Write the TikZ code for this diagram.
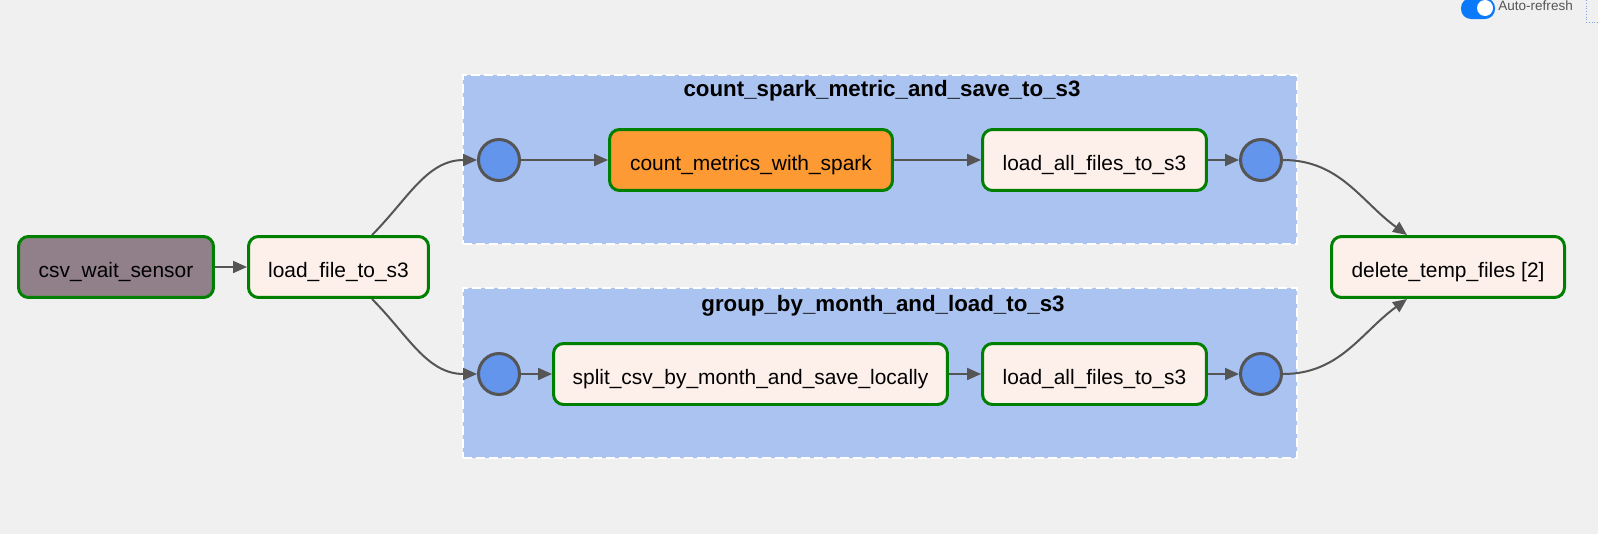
\documentclass[tikz,border=0pt]{standalone}
\usepackage{fontspec}
\setmainfont{Liberation Sans}
\usetikzlibrary{arrows.meta}
\definecolor{bgpage}{RGB}{240,240,240}
\definecolor{grpblue}{RGB}{170,195,240}
\definecolor{taskfill}{RGB}{253,239,234}
\definecolor{sensorfill}{RGB}{145,128,137}
\definecolor{sparkfill}{RGB}{254,154,51}
\definecolor{okgreen}{RGB}{0,128,0}
\definecolor{edgegray}{RGB}{85,85,85}
\definecolor{jointblue}{RGB}{100,149,237}
\definecolor{toggleblue}{RGB}{10,122,250}
\definecolor{frameblue}{RGB}{130,165,225}
\begin{document}
\begin{tikzpicture}[x=0.02cm,y=-0.02cm,
  every node/.style={font=\fontsize{11.9}{14}\selectfont},
  task/.style={draw=okgreen,line width=0.06cm,fill=taskfill,rounded corners=0.2cm,minimum height=1.22cm,inner sep=0pt,text height=0.45cm,text depth=0.03cm},
  joint/.style={circle,draw=edgegray,line width=0.06cm,fill=jointblue,minimum size=0.82cm,inner sep=0pt},
  grp/.style={draw=white,dash pattern=on 0.18cm off 0.08cm,line width=0.04cm,fill=grpblue,minimum width=16.68cm,inner sep=0pt},
  grptitle/.style={font=\bfseries\fontsize{12.7}{15}\selectfont,anchor=base},
  flow/.style={-{Triangle[length=0.28cm,width=0.24cm]},line width=0.04cm,edgegray}]
  \useasboundingbox (0,0) rectangle (1598,534);
  \fill[bgpage] (0,0) rectangle (1598,534);
  % toggle in the corner
  \fill[toggleblue,rounded corners=0.2cm] (1461,-2) rectangle (1495,19);
  \fill[white] (1485,8) circle (8);
  \node[anchor=west,inner sep=0pt,text=edgegray,font=\fontsize{7.7}{9}\selectfont] (auto) at (1498,6) {Auto-refresh};
  \draw[frameblue,densely dotted,line width=0.02cm] (1586,0) -- (1586,22) -- (1598,22);
  % task groups
  \node[grp,minimum height=3.38cm] (g1) at (880,159.5) {};
  \node[grp,minimum height=3.4cm] (g2) at (880,373) {};
  \node[grptitle] (t1) at (882,96) {count\_spark\_metric\_and\_save\_to\_s3};
  \node[grptitle] (t2) at (883,311) {group\_by\_month\_and\_load\_to\_s3};
  % tasks
  \node[task,fill=sensorfill,minimum width=3.9cm] (sensor) at (116,267) {csv\_wait\_sensor};
  \node[task,minimum width=3.6cm] (loadfile) at (338.5,267) {load\_file\_to\_s3};
  \node[joint] (c1) at (499,160) {};
  \node[task,fill=sparkfill,minimum width=5.66cm] (spark) at (751,160) {count\_metrics\_with\_spark};
  \node[task,minimum width=4.48cm] (allA) at (1094.5,160) {load\_all\_files\_to\_s3};
  \node[joint] (c2) at (1261,160) {};
  \node[joint] (c3) at (499,374) {};
  \node[task,minimum width=7.88cm] (split) at (750.5,374) {split\_csv\_by\_month\_and\_save\_locally};
  \node[task,minimum width=4.48cm] (allB) at (1094.5,374) {load\_all\_files\_to\_s3};
  \node[joint] (c4) at (1261,374) {};
  \node[task,minimum width=4.66cm] (del) at (1448,267) {delete\_temp\_files [2]};
  % edges
  \draw[flow] (sensor) -- (loadfile);
  \draw[flow] ([xshift=0.67cm]loadfile.north) to[out=45,in=180] (c1);
  \draw[flow] ([xshift=0.67cm]loadfile.south) to[out=-45,in=180] (c3);
  \draw[flow] (c1) -- (spark);
  \draw[flow] (spark) -- (allA);
  \draw[flow] (allA) -- (c2);
  \draw[flow] (c3) -- (split);
  \draw[flow] (split) -- (allB);
  \draw[flow] (allB) -- (c4);
  \draw[flow] (c2) to[out=0,in=144] ([xshift=-0.82cm]del.north);
  \draw[flow] (c4) to[out=0,in=-144] ([xshift=-0.82cm]del.south);
\end{tikzpicture}
\end{document}
